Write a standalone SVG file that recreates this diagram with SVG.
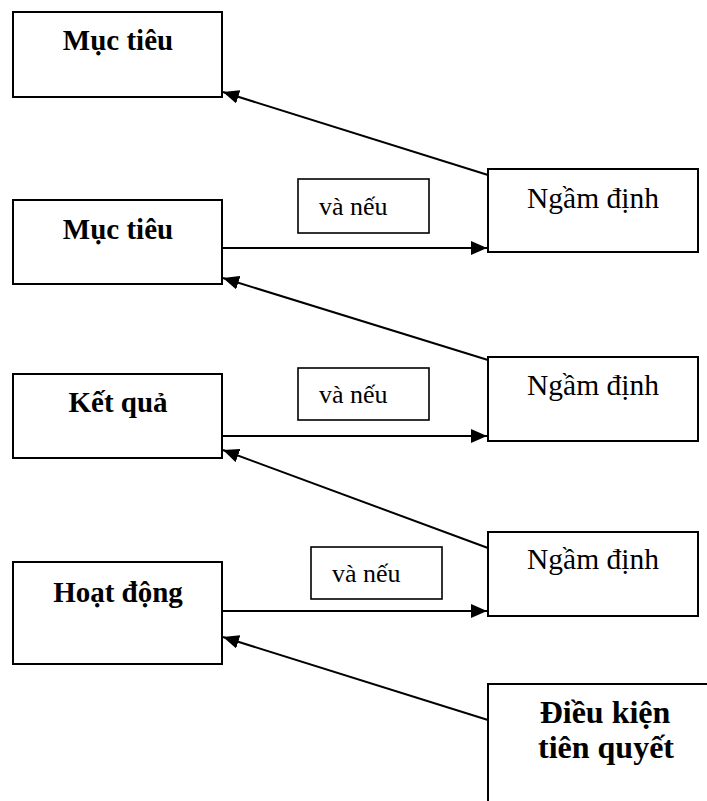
<svg xmlns="http://www.w3.org/2000/svg" width="707" height="801" viewBox="0 0 707 801">
  <style>
    .box { fill: #fff; stroke: #000; stroke-width: 2; }
    .lbl { fill: #fff; stroke: #000; stroke-width: 1.6; }
    .bold { font-family: "Liberation Serif", "Times New Roman", serif; font-weight: bold; font-size: 29px; fill: #000; text-anchor: middle; }
    .big { font-size: 32px; }
    .reg { font-family: "Liberation Serif", "Times New Roman", serif; font-size: 29.5px; fill: #000; text-anchor: middle; }
    .small { font-family: "Liberation Serif", "Times New Roman", serif; font-size: 26px; fill: #000; }
    .edge { fill: none; stroke: #000; stroke-width: 2; marker-end: url(#arrow); }
  </style>
  <defs>
    <marker id="arrow" markerUnits="userSpaceOnUse" markerWidth="17" markerHeight="14" viewBox="0 0 17 14" refX="16" refY="7" orient="auto">
      <path d="M0,0 L16,7 L0,14 Z" fill="#000"/>
    </marker>
  </defs>

  <rect width="707" height="801" fill="#fff"/>

  <!-- left column: objectives, results, activities -->
  <g id="muc-tieu-1">
    <rect class="box" x="13" y="12" width="209" height="85"/>
    <text class="bold" x="118" y="50">Mục tiêu</text>
  </g>
  <g id="muc-tieu-2">
    <rect class="box" x="13" y="200" width="209" height="84"/>
    <text class="bold" x="118" y="239">Mục tiêu</text>
  </g>
  <g id="ket-qua">
    <rect class="box" x="13" y="374" width="209" height="84"/>
    <text class="bold" x="118" y="412">Kết quả</text>
  </g>
  <g id="hoat-dong">
    <rect class="box" x="13" y="562" width="209" height="102"/>
    <text class="bold" x="118" y="602">Hoạt động</text>
  </g>

  <!-- right column: assumptions and preconditions -->
  <g id="ngam-dinh-1">
    <rect class="box" x="488" y="169" width="210" height="83"/>
    <text class="reg" x="593" y="208">Ngầm định</text>
  </g>
  <g id="ngam-dinh-2">
    <rect class="box" x="488" y="357" width="210" height="84"/>
    <text class="reg" x="593" y="395">Ngầm định</text>
  </g>
  <g id="ngam-dinh-3">
    <rect class="box" x="488" y="532" width="210" height="84"/>
    <text class="reg" x="593" y="569">Ngầm định</text>
  </g>
  <g id="dieu-kien">
    <rect class="box" x="488" y="684" width="240" height="140"/>
    <text class="bold big" x="605" y="723">Điều kiện</text>
    <text class="bold big" x="606" y="758">tiên quyết</text>
  </g>

  <!-- "and if" labels -->
  <g id="va-neu-1">
    <rect class="lbl" x="298" y="179" width="131" height="54"/>
    <text class="small" x="319" y="215">và nếu</text>
  </g>
  <g id="va-neu-2">
    <rect class="lbl" x="298" y="368" width="131" height="52"/>
    <text class="small" x="319" y="403">và nếu</text>
  </g>
  <g id="va-neu-3">
    <rect class="lbl" x="311" y="547" width="131" height="52"/>
    <text class="small" x="332" y="582">và nếu</text>
  </g>

  <!-- connectors -->
  <g id="connectors">
    <line class="edge" x1="488" y1="175" x2="223" y2="92"/>
    <line class="edge" x1="222" y1="248" x2="487" y2="248"/>
    <line class="edge" x1="488" y1="360" x2="223" y2="278"/>
    <line class="edge" x1="222" y1="436" x2="487" y2="436"/>
    <line class="edge" x1="488" y1="548" x2="223" y2="450"/>
    <line class="edge" x1="222" y1="611" x2="487" y2="611"/>
    <line class="edge" x1="488" y1="720" x2="223" y2="637"/>
  </g>
</svg>
